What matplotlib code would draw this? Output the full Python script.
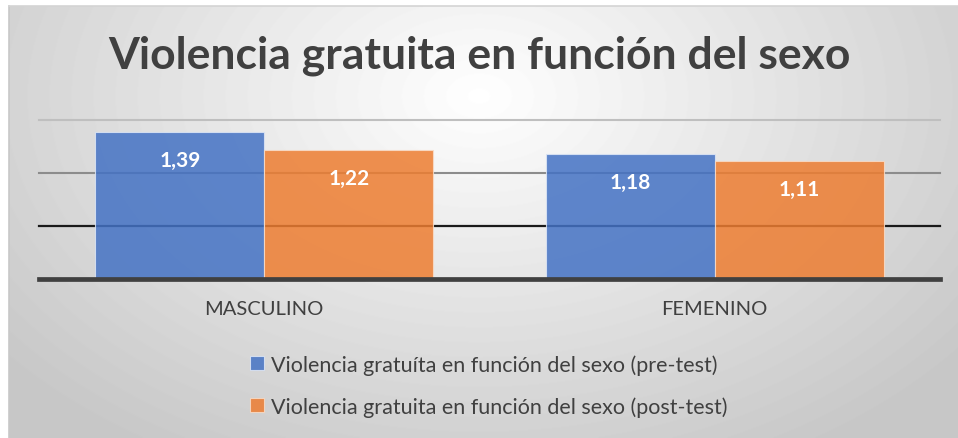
import matplotlib

matplotlib.use("Agg")
import matplotlib.pyplot as plt
import numpy as np
from matplotlib.patches import Rectangle

categories = ["MASCULINO", "FEMENINO"]
pre_test = [1.39, 1.18]
post_test = [1.22, 1.11]
series_names = [
    "Violencia gratuíta en función del sexo (pre-test)",
    "Violencia gratuita en función del sexo (post-test)",
]
title = "Violencia gratuita en función del sexo"

W, H = 958, 439
fig = plt.figure(figsize=(W / 100, H / 100), dpi=100)
fig.patch.set_facecolor("white")

# background: radial grey gradient inside the chart frame
x0, y0 = 9, 7
bg = fig.add_axes([x0 / W, 0, 1 - x0 / W, 1 - y0 / H])
yy, xx = np.mgrid[0:H - y0, 0:W - x0]
r = np.sqrt(((xx - 470) / 620.0) ** 2 + ((yy - 90) / 420.0) ** 2)
shade = np.clip(1.0 - 0.22 * r, 0.78, 1.0)
bg.imshow(shade, cmap="gray", vmin=0, vmax=1, aspect="auto",
          extent=[0, 1, 0, 1], origin="upper")
bg.set_xlim(0, 1)
bg.set_ylim(0, 1)
bg.axis("off")
fig.add_artist(plt.Line2D([x0 / W, x0 / W], [0, 1 - y0 / H], color="#c8c8c8", lw=1.2))
fig.add_artist(plt.Line2D([x0 / W, 1], [1 - y0 / H, 1 - y0 / H], color="#d4d4d4", lw=1.2))

# plot area
px0, px1 = 39, 940
py_top, py_bot = 121, 280
ax = fig.add_axes([px0 / W, 1 - py_bot / H, (px1 - px0) / W, (py_bot - py_top) / H])
ax.patch.set_alpha(0)
ax.set_xlim(-0.5, 1.5)
ax.set_ylim(0, 1.5)

for yv, c, lw in [(1.5, "#bfbfbf", 1.5), (1.0, "#8c8c8c", 1.5), (0.5, "#1a1a1a", 1.6)]:
    ax.axhline(yv, color=c, lw=lw, zorder=1, clip_on=False)
ax.axhline(0, color="#404040", lw=3.4, zorder=4, clip_on=False)

x = np.arange(len(categories))
bw = 0.375
b1 = ax.bar(x - bw / 2, pre_test, bw, color="#4472C4", alpha=0.85,
            edgecolor="#dde6f5", linewidth=0.8, zorder=2, label=series_names[0])
b2 = ax.bar(x + bw / 2, post_test, bw, color="#ED7D31", alpha=0.85,
            edgecolor="#f8dcc8", linewidth=0.8, zorder=2, label=series_names[1])

for bars, vals in [(b1, pre_test), (b2, post_test)]:
    for rect, v in zip(bars, vals):
        ax.annotate(f"{v:.2f}".replace(".", ","),
                    (rect.get_x() + rect.get_width() / 2, v),
                    xytext=(0, -28), textcoords="offset pixels",
                    ha="center", va="center", color="white",
                    fontsize=15, fontweight="bold", family="Lato", zorder=5)

ax.set_xticks(x)
ax.set_xticklabels(categories, fontsize=14.5, color="#404040", family="Lato")
ax.tick_params(axis="x", length=0, pad=15)
ax.set_yticks([])
for s in ax.spines.values():
    s.set_visible(False)

fig.text(0.5, 1 - 56 / H, title, ha="center", va="center",
         fontsize=32, fontweight="bold", color="#404040", family="Lato")

# legend
leg_box = Rectangle((240 / W, 1 - 428 / H), 500 / W, 87 / H,
                    transform=fig.transFigure, facecolor="#e8e8e8",
                    edgecolor="none", zorder=0)
fig.add_artist(leg_box)
leg = fig.legend(handles=[b1, b2], labels=series_names,
                 loc="upper left", bbox_to_anchor=(235 / W, 1 - 340 / H),
                 frameon=False, labelcolor="#404040",
                 prop={"family": "Lato", "size": 15.5},
                 handlelength=0.65, handleheight=0.65, handletextpad=0.3,
                 labelspacing=1.0, borderpad=0.2)

fig.savefig("out.png", dpi=100)
